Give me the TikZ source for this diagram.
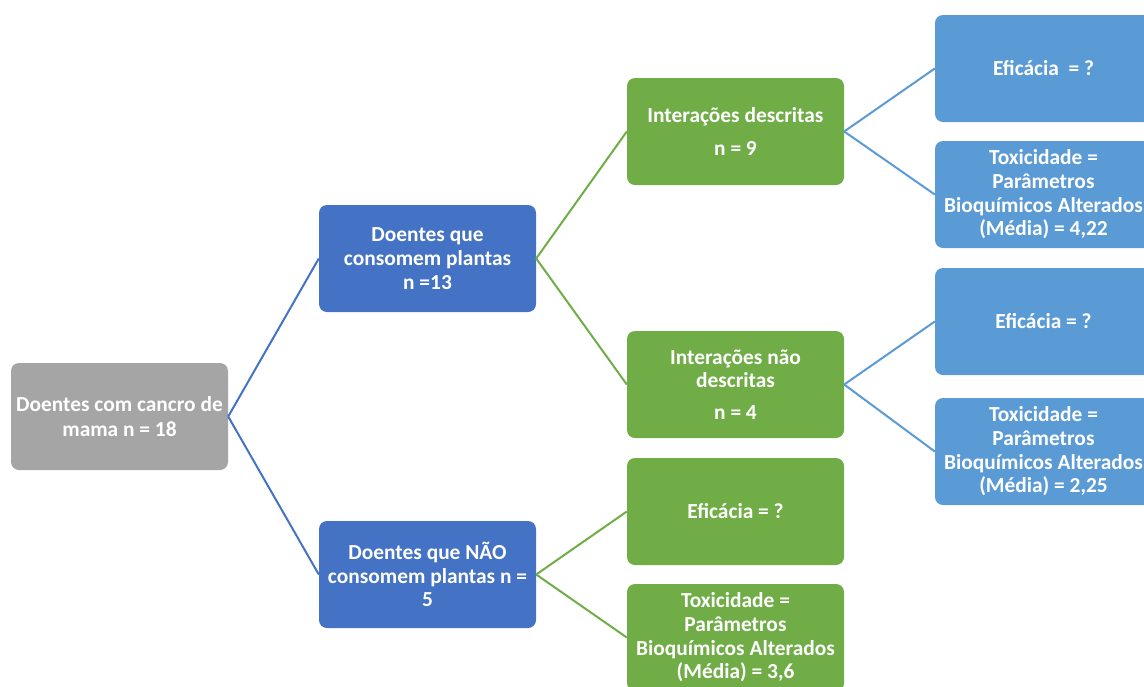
\documentclass[tikz,border=0pt]{standalone}
\usepackage{fontspec}
\setmainfont{Carlito}
\definecolor{cgray}{HTML}{A5A5A5}
\definecolor{cblue}{HTML}{4472C4}
\definecolor{cgreen}{HTML}{70AD47}
\definecolor{clblue}{HTML}{5B9BD5}
\begin{document}
\begin{tikzpicture}[x=1pt,y=-1pt,
  box/.style={rounded corners=8pt, minimum width=217pt, minimum height=107pt,
    inner sep=0pt, text=white, align=center,
    font=\fontsize{21.4}{23.7}\selectfont\bfseries},
  graybox/.style={box, fill=cgray},
  bluebox/.style={box, fill=cblue},
  greenbox/.style={box, fill=cgreen},
  lbluebox/.style={box, fill=clblue},
  link/.style={line width=2pt}]
\path[use as bounding box] (0,0) rectangle (1144,686);
\clip (0,0) rectangle (1144,686);
\node[graybox] (root) at (119.5,416.5) {Doentes com cancro de\\[1pt]mama n = 18};
\node[bluebox] (b1) at (427.5,258.5) {Doentes que\\consomem plantas\\n =13};
\node[bluebox] (b2) at (427.5,574.5) {Doentes que NÃO\\consomem plantas n =\\5};
\node[greenbox] (g1) at (735.5,131.5) {Interações descritas\\[9pt]n = 9};
\node[greenbox] (g2) at (735.5,384.5) {Interações não\\descritas\\[8pt]n = 4};
\node[greenbox] (g3) at (735.5,511.5) {Eficácia = ?};
\node[greenbox] (g4) at (735.5,637.5) {Toxicidade =\\Parâmetros\\Bioquímicos Alterados\\(Média) = 3,6};
\node[lbluebox] (l1) at (1043.5,68.5) {Eficácia~ = ?};
\node[lbluebox] (l2) at (1043.5,194.5) {Toxicidade =\\Parâmetros\\Bioquímicos Alterados\\(Média) = 4,22};
\node[lbluebox] (l3) at (1043.5,321.5) {Eficácia = ?};
\node[lbluebox] (l4) at (1043.5,451.5) {Toxicidade =\\Parâmetros\\Bioquímicos Alterados\\(Média) = 2,25};
\draw[link, cblue] (root.east) -- (b1.west);
\draw[link, cblue] (root.east) -- (b2.west);
\draw[link, cgreen] (b1.east) -- (g1.west);
\draw[link, cgreen] (b1.east) -- (g2.west);
\draw[link, cgreen] (b2.east) -- (g3.west);
\draw[link, cgreen] (b2.east) -- (g4.west);
\draw[link, clblue] (g1.east) -- (l1.west);
\draw[link, clblue] (g1.east) -- (l2.west);
\draw[link, clblue] (g2.east) -- (l3.west);
\draw[link, clblue] (g2.east) -- (l4.west);
\end{tikzpicture}
\end{document}
